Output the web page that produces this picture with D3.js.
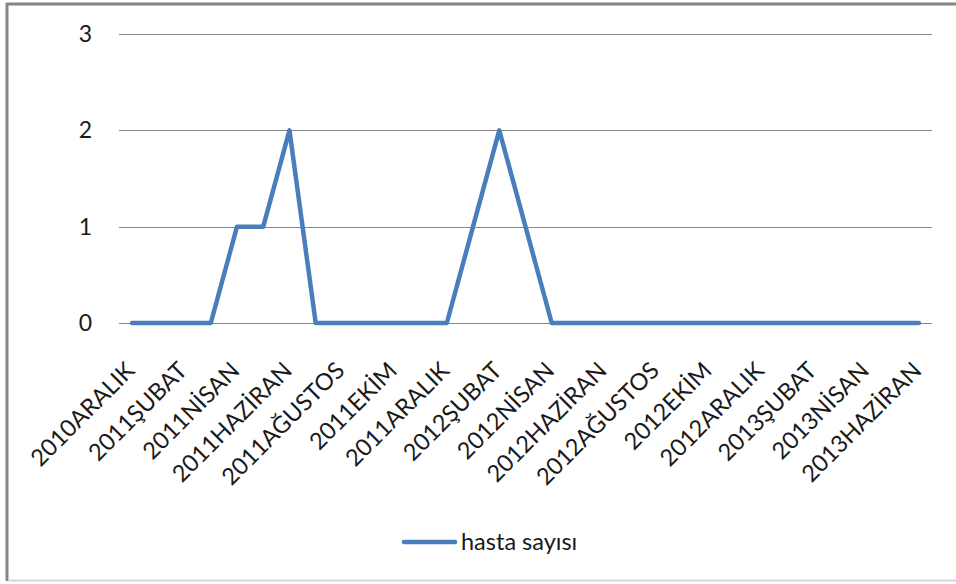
<!DOCTYPE html>
<html><head><meta charset="utf-8">
<script src="https://cdn.jsdelivr.net/npm/d3@7"></script>
<style>body{margin:0;background:#fff}svg{display:block}text{font-family:Lato,"Open Sans",sans-serif;fill:#1a1a1a}</style>
</head><body><svg id="c" width="956" height="584"></svg>
<script>
const categories = ["2010ARALIK","2011OCAK","2011ŞUBAT","2011MART","2011NİSAN","2011MAYIS","2011HAZİRAN","2011TEMMUZ","2011AĞUSTOS","2011EYLÜL","2011EKİM","2011KASIM","2011ARALIK","2012OCAK","2012ŞUBAT","2012MART","2012NİSAN","2012MAYIS","2012HAZİRAN","2012TEMMUZ","2012AĞUSTOS","2012EYLÜL","2012EKİM","2012KASIM","2012ARALIK","2013OCAK","2013ŞUBAT","2013MART","2013NİSAN","2013MAYIS","2013HAZİRAN"];
const hastaSayisi = [0,0,0,0,1,1,2,0,0,0,0,0,0,1,2,1,0,0,0,0,0,0,0,0,0,0,0,0,0,0,0];
const yTicks = [0,1,2,3];
const seriesName = "hasta sayısı";

const svg = d3.select("#c");
// chart frame
svg.append("line").attr("x1",7).attr("x2",7).attr("y1",3).attr("y2",581).attr("stroke","#858585").attr("stroke-width",3);
svg.append("line").attr("x1",6).attr("x2",956).attr("y1",4).attr("y2",4).attr("stroke","#858585").attr("stroke-width",3);
svg.append("line").attr("x1",8).attr("x2",956).attr("y1",580.5).attr("y2",580.5).attr("stroke","#d4d4d4").attr("stroke-width",2);

const x = d3.scaleBand().domain(categories).range([119,932]);
const y = d3.scaleLinear().domain([0,3]).range([323,34]);

// gridlines
svg.append("g").selectAll("line").data(yTicks).join("line")
  .attr("x1",119).attr("x2",932).attr("y1",d=>Math.round(y(d))+0.5).attr("y2",d=>Math.round(y(d))+0.5)
  .attr("stroke","#868686").attr("stroke-width",1.2);

// y labels
svg.append("g").selectAll("text").data(yTicks).join("text")
  .attr("x",92).attr("y",d=>y(d)+8).attr("text-anchor","end").attr("font-size",23).text(d=>d);

// x labels (every other)
const cx = d => x(d)+x.bandwidth()/2;
svg.append("g").selectAll("text").data(categories.filter((d,i)=>i%2===0)).join("text")
  .attr("transform",d=>`translate(${cx(d)+4},${372}) rotate(-45)`)
  .attr("text-anchor","end").attr("font-size",23.5).text(d=>d);

// line
const line = d3.line().x((d,i)=>cx(categories[i])).y(d=>y(d));
svg.append("path").datum(hastaSayisi).attr("d",line).attr("fill","none")
  .attr("stroke","#4a7ebb").attr("stroke-width",4.5).attr("stroke-linejoin","round").attr("stroke-linecap","round");

// legend
svg.append("line").attr("x1",404).attr("x2",455).attr("y1",542).attr("y2",542)
  .attr("stroke","#4a7ebb").attr("stroke-width",4.5).attr("stroke-linecap","round");
svg.append("text").attr("x",461).attr("y",550).attr("font-size",23.5).text(seriesName);
</script></body></html>
